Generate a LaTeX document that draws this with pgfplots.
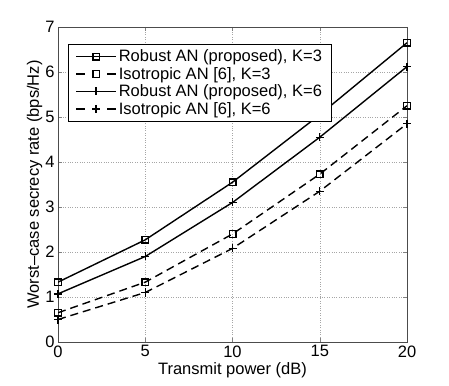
\documentclass[border=0pt]{standalone}
\usepackage{fontspec}
\setmainfont{Liberation Sans}
\usepackage{pgfplots}
\pgfplotsset{compat=1.18}
\pgfplotsset{
  leg line/.style={legend image code/.code={
      \draw[mark repeat=2, mark phase=2, ##1]
        plot coordinates {(0pt,0pt) (20pt,0pt) (40pt,0pt)};}},
  leg dash/.style={legend image code/.code={
      \draw[mark repeat=2, mark phase=2, ##1, dash pattern=on 9pt off 22pt]
        plot coordinates {(0pt,0pt) (20pt,0pt) (40pt,0pt)};}},
}
\begin{document}
\begin{tikzpicture}
  \begin{axis}[
    scale only axis,
    width=349pt, height=315pt,
    xmin=0, xmax=20, ymin=0, ymax=7,
    xtick={0,5,10,15,20},
    ytick={0,1,2,3,4,5,6,7},
    tick align=inside,
    tick pos=both,
    grid=major,
    major grid style={dotted, gray!70},
    axis line style={gray!60!black, line width=0.6pt},
    font=\fontsize{16.5pt}{19pt}\selectfont,
    tick label style={font=\fontsize{16.5pt}{19pt}\selectfont},
    label style={font=\fontsize{16.5pt}{19pt}\selectfont},
    /pgf/number format/assume math mode=true,
    xlabel={Transmit power (dB)},
    ylabel={Worst--case secrecy rate (bps/Hz)},
    xlabel style={yshift=2pt},
    ylabel style={yshift=-4pt},
    legend cell align=left,
    legend style={at={(0.029,0.946)}, anchor=north west,
      draw=black, line width=0.6pt, row sep=0pt,
      inner xsep=7pt, inner ysep=3.5pt,
      font=\fontsize{16.5pt}{19pt}\selectfont},
    leg line,
  ]
    % Robust AN, K=3
    \addplot[black, line width=1.4pt, mark=square, mark size=3.3pt, mark options={solid}]
      coordinates {(0,1.33) (5,2.27) (10,3.55) (15,5.05) (20,6.65)};
    \addlegendentry{Robust AN (proposed), K=3}
    % Isotropic AN, K=3
    \addplot[black, line width=1.4pt, dash pattern=on 8pt off 5pt, mark=square, mark size=3.3pt, mark options={solid}, leg dash]
      coordinates {(0,0.65) (5,1.33) (10,2.40) (15,3.73) (20,5.25)};
    \addlegendentry{Isotropic AN [6], K=3}
    % Robust AN, K=6
    \addplot[black, line width=1.4pt, mark=+, mark size=4pt, mark options={solid}]
      coordinates {(0,1.07) (5,1.90) (10,3.10) (15,4.55) (20,6.12)};
    \addlegendentry{Robust AN (proposed), K=6}
    % Isotropic AN, K=6
    \addplot[black, line width=1.4pt, dash pattern=on 8pt off 5pt, mark=+, mark size=4pt, mark options={solid}, leg dash]
      coordinates {(0,0.50) (5,1.10) (10,2.08) (15,3.35) (20,4.85)};
    \addlegendentry{Isotropic AN [6], K=6}
  \end{axis}
  \path (-58pt,-43pt) rectangle (391pt,342pt);
\end{tikzpicture}
\end{document}
